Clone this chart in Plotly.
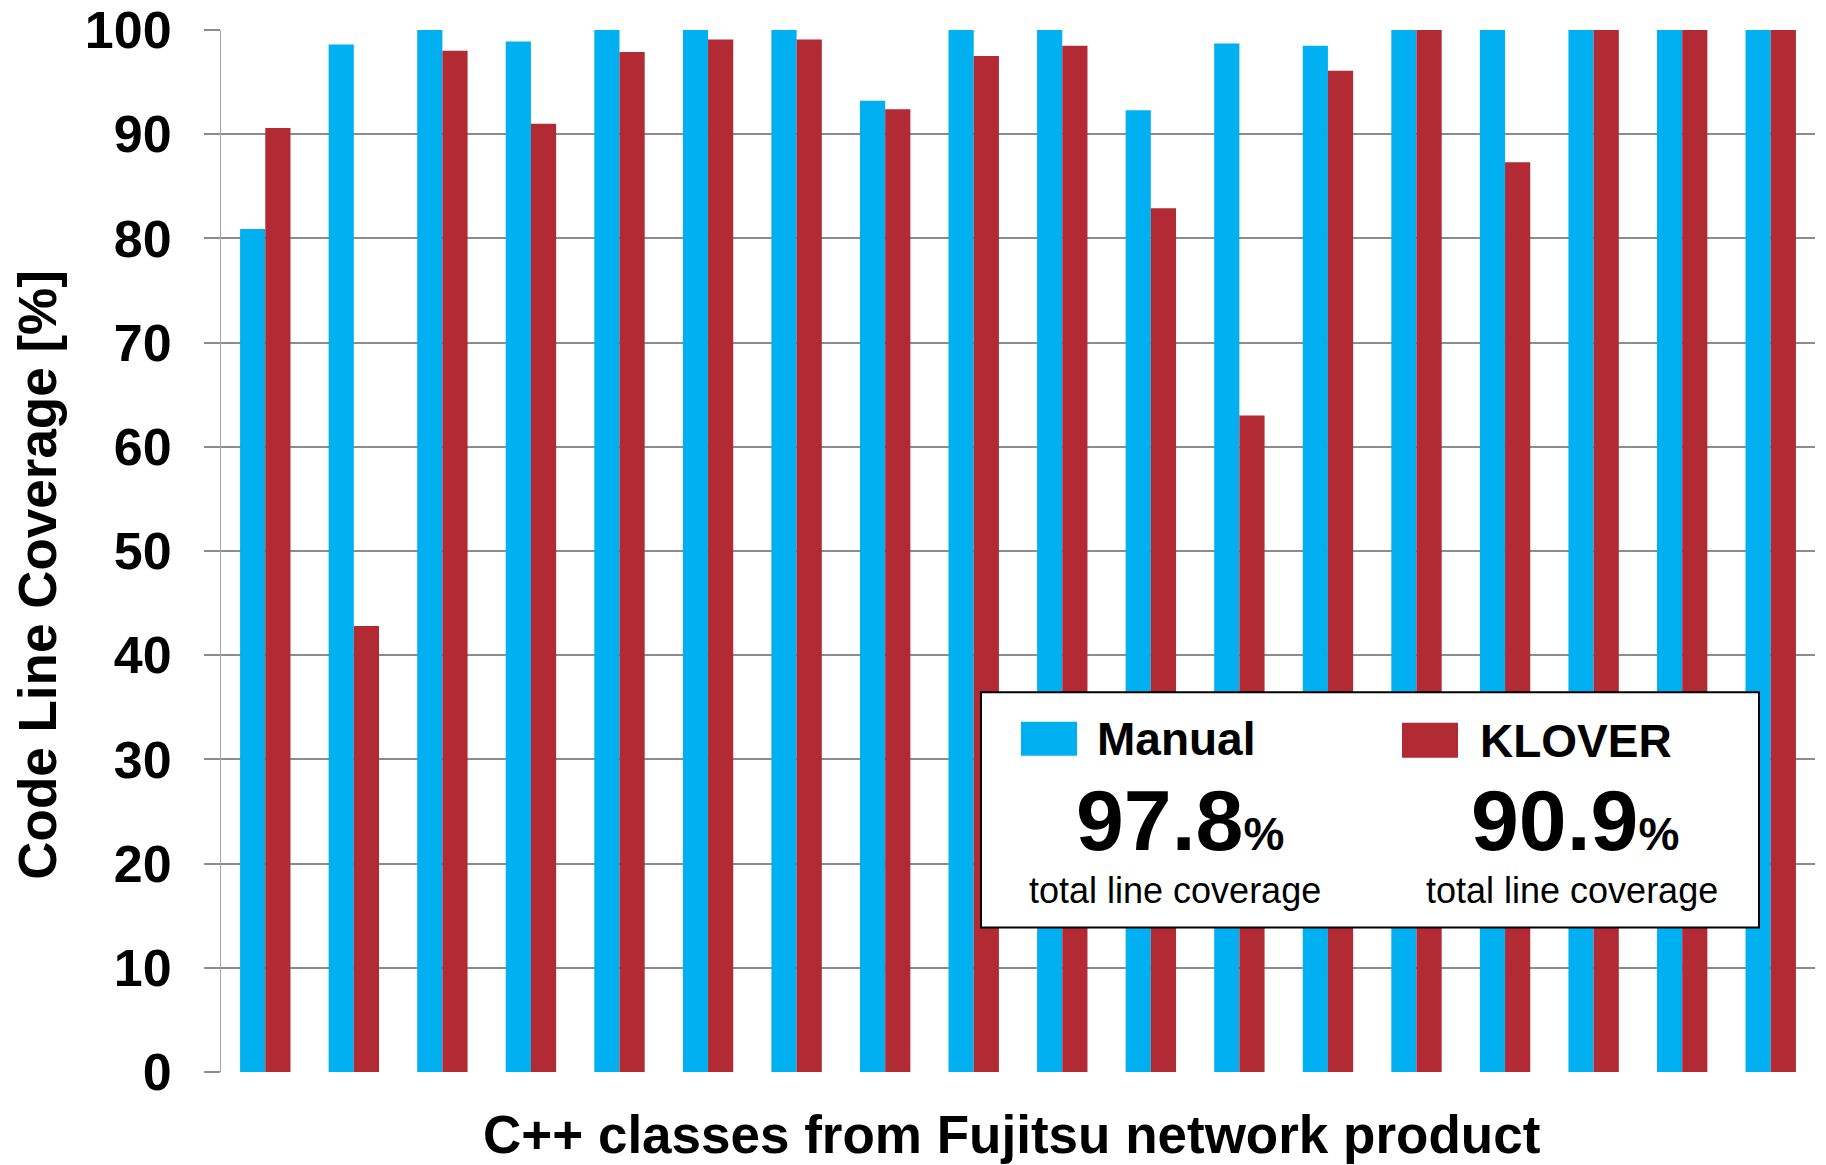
import plotly.graph_objects as go

# Per-class line coverage (%) for 18 C++ classes
classes = list(range(1, 19))
manual = [80.9, 98.6, 100, 98.9, 100, 100, 100, 93.2, 100,
          100, 92.3, 98.7, 98.5, 100, 100, 100, 100, 100]
klover = [90.6, 42.8, 98.0, 91.0, 97.9, 99.1, 99.1, 92.4, 97.5,
          98.5, 82.9, 63.0, 96.1, 100, 87.3, 100, 100, 100]

series_names = ["Manual", "KLOVER"]
totals = [97.8, 90.9]
y_ticks = list(range(0, 101, 10))

BLUE = "#00B0F0"
RED = "#B22A33"
FONT = "Arial, Liberation Sans, sans-serif"

W, H = 1826, 1165
L, R, T, B = 221, 11, 30, 92.5
PW, PH = W - L - R, H - T - B


def px(x):
    return (x - L) / PW


def py(y):
    return (H - B - y) / PH


fig = go.Figure()
fig.add_trace(go.Bar(x=classes, y=manual, name=series_names[0],
                     marker=dict(color=BLUE, line=dict(width=0))))
fig.add_trace(go.Bar(x=classes, y=klover, name=series_names[1],
                     marker=dict(color=RED, line=dict(width=0))))

fig.update_layout(
    width=W, height=H,
    margin=dict(l=L, r=R, t=T, b=B, autoexpand=False),
    paper_bgcolor="white", plot_bgcolor="white",
    barmode="group", bargap=0.431, bargroupgap=0,
    showlegend=False,
    font=dict(family=FONT, color="black"),
)

fig.update_xaxes(range=[0.5, 18.5], showticklabels=False, showgrid=False,
                 zeroline=False, showline=False, ticks="")
fig.update_yaxes(range=[0, 100], tickvals=y_ticks,
                 tickfont=dict(family=FONT, size=52, color="black", weight="bold"),
                 showgrid=True, gridcolor="#8c8c8c", gridwidth=2,
                 ticks="outside", ticklen=16, tickwidth=2, tickcolor="#8c8c8c",
                 ticklabelstandoff=22,
                 showline=True, linecolor="#a6a6a6", linewidth=1,
                 zeroline=False)

# Axis titles
fig.add_annotation(text="<b>Code Line Coverage [%]</b>", textangle=-90,
                   xref="paper", yref="paper", x=px(38), y=py(575),
                   xanchor="center", yanchor="middle", showarrow=False,
                   font=dict(family=FONT, size=53, color="black"))
fig.add_annotation(text="<b>C++ classes from Fujitsu network product</b>",
                   xref="paper", yref="paper", x=px(1011), y=py(1135),
                   xanchor="center", yanchor="middle", showarrow=False,
                   font=dict(family=FONT, size=53, color="black"))

# Legend box with totals
fig.add_shape(type="rect", xref="paper", yref="paper",
              x0=px(981), x1=px(1759), y0=py(928), y1=py(692.5),
              line=dict(color="black", width=2), fillcolor="white")

columns = [
    dict(sw=(1021, 1077, 722, 756), label_x=1095, label_y=739, center=1180,
         sub_center=1175),
    dict(sw=(1402, 1458, 723, 758), label_x=1478, label_y=741, center=1575,
         sub_center=1572),
]
colors = [BLUE, RED]
for name, total, col, c in zip(series_names, totals, columns, colors):
    x0, x1, y0, y1 = col["sw"]
    fig.add_shape(type="rect", xref="paper", yref="paper",
                  x0=px(x0), x1=px(x1), y0=py(y1), y1=py(y0),
                  line=dict(width=0), fillcolor=c)
    fig.add_annotation(text=f"<b>{name}</b>", xref="paper", yref="paper",
                       x=px(col["label_x"]), y=py(col["label_y"]),
                       xanchor="left", yanchor="middle", showarrow=False,
                       font=dict(family=FONT, size=46, color="black"))
    fig.add_annotation(
        text=f"<b>{total:.1f}<span style='font-size:46px'>%</span></b>",
        xref="paper", yref="paper", x=px(col["center"]), y=py(820),
        xanchor="center", yanchor="middle", showarrow=False,
        font=dict(family=FONT, size=86, color="black"))
    fig.add_annotation(text="total line coverage", xref="paper", yref="paper",
                       x=px(col["sub_center"]), y=py(891),
                       xanchor="center", yanchor="middle", showarrow=False,
                       font=dict(family=FONT, size=36, color="black"))

fig.write_html("out.html")
